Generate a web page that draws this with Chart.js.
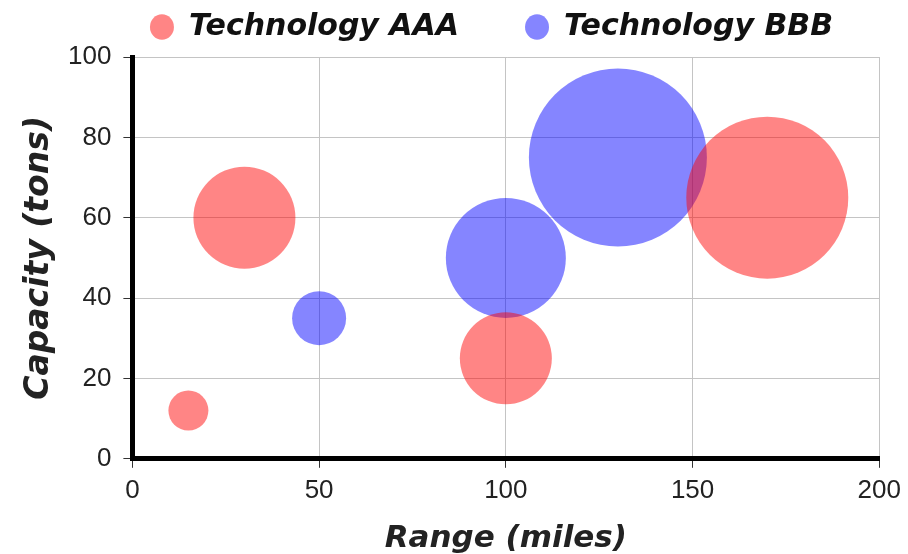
<!DOCTYPE html>
<html>
<meta name="viewport" content="width=device-width, initial-scale=1.0" />
<style>
	html, body {
		width: 100%;
		height: 100%;
		margin: 0;
		padding: 0;
		overflow: hidden;
		background: #fff;
	}
	#wrap {
		position: absolute;
		left: 0;
		top: 0;
		width: 908px;
		height: 554px;
	}
</style>
<script src="https://cdn.jsdelivr.net/npm/chart.js"></script>
<script>

	// Bubble data (x = range, y = capacity, r = bubble radius in px)
	var aaaX = [15, 30, 100, 170];
	var aaaY = [12, 60, 25, 65];
	var aaaR = [20, 51, 46, 81];

	var bbbX = [50, 100, 130];
	var bbbY = [35, 50, 75];
	var bbbR = [27, 60, 89];

	var xTicks = [0, 50, 100, 150, 200];
	var yTicks = [0, 20, 40, 60, 80, 100];

	function toPoints(xs, ys, rs) {
		var pts = [];
		for (var i = 0; i < xs.length; i++) {
			pts.push({x: xs[i], y: ys[i], r: rs[i]});
		}
		return pts;
	}

	var fam = "'DejaVu Sans', Verdana, sans-serif";
	var tickFont = {family: "'Liberation Sans', Arial, sans-serif", size: 26};

	// nudge the legend: a bit taller and shifted to the right
	var legendTweak = {
		id: 'legendTweak',
		beforeLayout: function (chart) {
			var lg = chart.legend;
			if (lg && !lg._tweaked) {
				lg._tweaked = true;
				var fit = lg.fit;
				lg.fit = function () {
					fit.call(this);
					this.height += 5;
				};
			}
		},
		afterLayout: function (chart) {
			if (chart.legend) {
				chart.legend.left += 40;
				chart.legend.right += 40;
			}
		}
	};

	window.onload = function () {

		var data = {
			datasets: [{
				label: "Technology AAA",
				backgroundColor: 'rgba(255, 0, 0, 0.48)',
				borderWidth: 0,
				data: toPoints(aaaX, aaaY, aaaR)
			}, {
				label: "Technology BBB",
				backgroundColor: 'rgba(0, 0, 255, 0.48)',
				borderWidth: 0,
				data: toPoints(bbbX, bbbY, bbbR)
			}]
		};

		var config = {
			type: 'bubble',
			data: data,
			plugins: [legendTweak],
			options: {
				responsive: false,
				animation: false,
				layout: {
					autoPadding: false,
					padding: {left: 23, right: 28, top: -54, bottom: 0}
				},
				plugins: {
					tooltip: {enabled: false},
					legend: {
						position: 'top',
						labels: {
							usePointStyle: true,
							pointStyle: 'circle',
							boxHeight: 18,
							pointStyleWidth: 24,
							padding: 66,
							color: '#111',
							font: {family: fam, size: 30, weight: 'bold', style: 'italic'}
						}
					}
				},
				scales: {
					x: {
						type: 'linear',
						min: 0,
						max: 200,
						afterBuildTicks: function (axis) {
							axis.ticks = xTicks.map(function (v) { return {value: v}; });
						},
						grid: {color: '#c4c4c4', tickColor: '#333', tickLength: 9, lineWidth: 1},
						border: {display: true, color: '#000', width: 5},
						ticks: {color: '#222', font: tickFont, padding: 7, maxRotation: 0},
						title: {display: true, text: 'Range (miles)', color: '#222',
							font: {family: fam, size: 31, weight: 'bold', style: 'italic', lineHeight: 1.0},
							padding: {top: 10, bottom: 0}}
					},
					y: {
						type: 'linear',
						min: 0,
						max: 100,
						afterBuildTicks: function (axis) {
							axis.ticks = yTicks.map(function (v) { return {value: v}; });
						},
						grid: {color: '#c4c4c4', tickColor: '#333', tickLength: 9, lineWidth: 1},
						border: {display: true, color: '#000', width: 5},
						ticks: {color: '#222', font: tickFont, padding: 12},
						title: {display: true, text: 'Capacity (tons)', color: '#222',
							font: {family: fam, size: 33, weight: 'bold', style: 'italic', lineHeight: 1.0},
							padding: {top: 0, bottom: 0}}
					}
				}
			}
		};

		new Chart(document.getElementById('myChart'), config);
	};

</script>
<body>
	<div id="wrap">
		<canvas id="myChart" width="908" height="554"></canvas>
	</div>
</body>
</html>
